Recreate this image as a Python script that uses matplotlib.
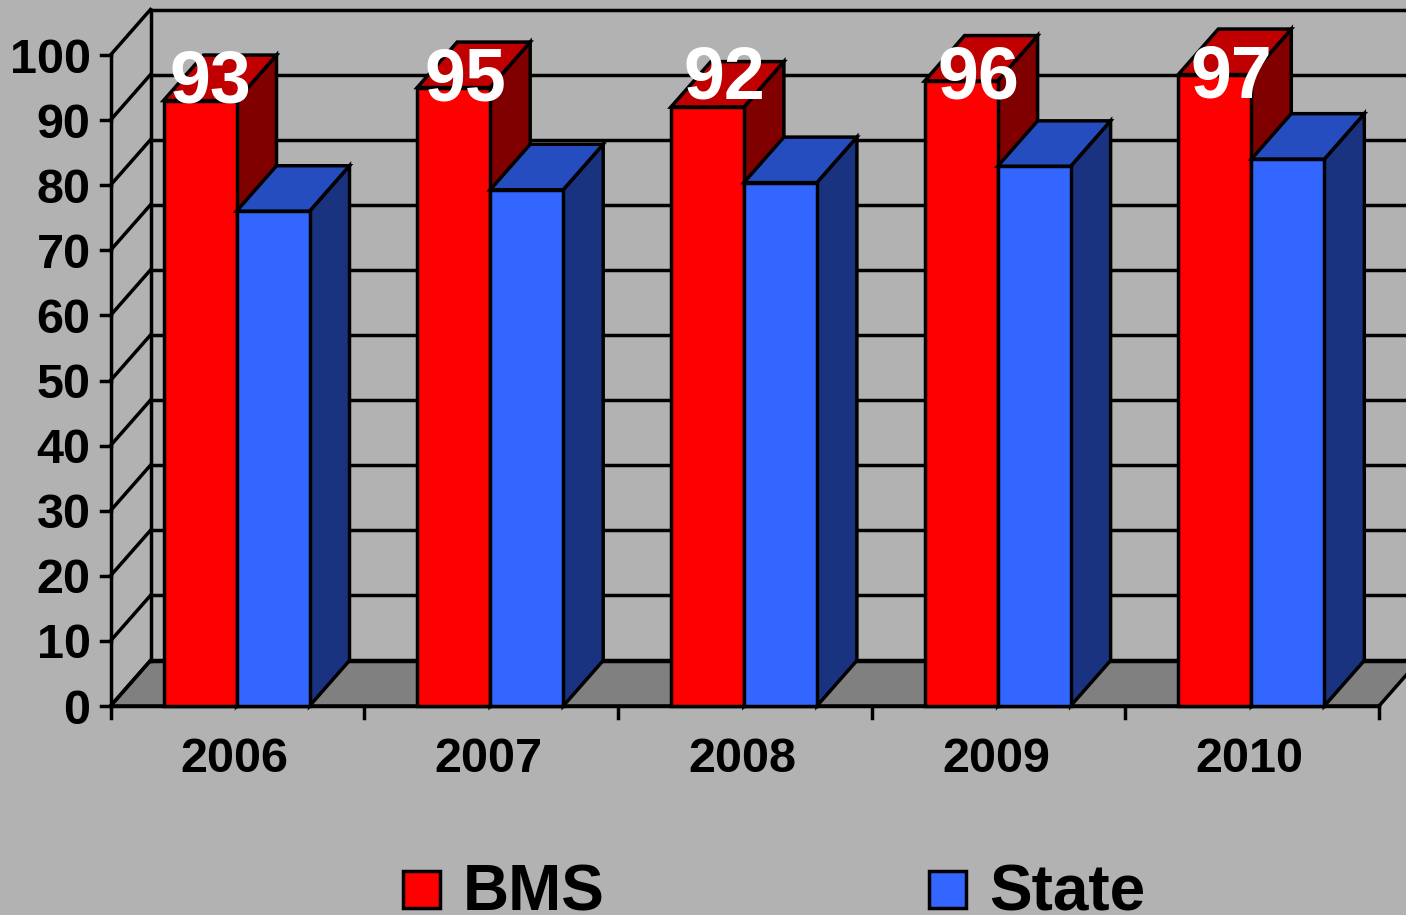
import numpy as np
import matplotlib
matplotlib.use('Agg')
import matplotlib.pyplot as plt
from matplotlib.patches import Polygon, Rectangle

years = ['2006', '2007', '2008', '2009', '2010']
bms = [93, 95, 92, 96, 97]
state = [76, 79.3, 80.4, 82.9, 84]
y_ticks = [0, 10, 20, 30, 40, 50, 60, 70, 80, 90, 100]

W, H = 1406, 915
x0_px, y0_px = 110.5, 706
slot_px = 253.7
unit_px = 6.51

bg = '#B2B2B2'
plt.rcParams['font.family'] = ['Liberation Sans', 'DejaVu Sans']

fig = plt.figure(figsize=(W / 100, H / 100), dpi=100, facecolor=bg)
ax = fig.add_axes([0, 0, 1, 1])
ax.set_xlim(-x0_px / slot_px, (W - x0_px) / slot_px)
ax.set_ylim((y0_px - H) / unit_px, y0_px / unit_px)
ax.axis('off')

# depth of the fake 3d box
dx = 40 / slot_px
dy = 45.5 / unit_px
lw = 2.5
n = len(years)

# floor
ax.add_patch(Polygon([(0, 0), (n, 0), (n + dx, dy), (dx, dy)], fc='#808080', ec='black', lw=lw, zorder=1))

# back wall grid and left wall
for t in y_ticks:
    ax.plot([dx, n + dx + 1], [t + dy, t + dy], color='black', lw=lw, zorder=1.5)
    ax.plot([0, dx], [t, t + dy], color='black', lw=lw, zorder=1.5)
ax.plot([dx, dx], [dy, 100 + dy], color='black', lw=lw, zorder=1.5)
ax.plot([0, 0], [0, 100], color='black', lw=lw, zorder=2)
ax.plot([0, n], [0, 0], color='black', lw=lw, zorder=2)

# ticks
for t in y_ticks:
    ax.plot([-10 / slot_px, 0], [t, t], color='black', lw=lw, zorder=2)
    ax.text(-20 / slot_px, t, str(t), ha='right', va='center_baseline', fontsize=35, fontweight='bold')
for i in range(n + 1):
    ax.plot([i, i], [0, -12 / unit_px], color='black', lw=lw, zorder=2)

x = np.arange(n)
offset = 53 / slot_px
bar_w = 73 / slot_px

# labels sit at nearly the same height, not on the bars
label_x = [0.395, 0.4, 0.42, 0.42, 0.42]
label_y = [96.9, 97.1, 97.4, 97.4, 97.6]


def bar3d(left, value, front, top, side, z):
    ax.bar(left, value, bar_w, align='edge', color=front, edgecolor='black', linewidth=lw, zorder=z + 0.2)
    r = left + bar_w
    ax.add_patch(Polygon([(r, 0), (r + dx, dy), (r + dx, value + dy), (r, value)],
                         fc=side, ec='black', lw=lw, zorder=z))
    ax.add_patch(Polygon([(left, value), (r, value), (r + dx, value + dy), (left + dx, value + dy)],
                         fc=top, ec='black', lw=lw, zorder=z + 0.1))


for i in x:
    bar3d(i + offset, bms[i], '#FF0000', '#C00000', '#800000', 3)
    bar3d(i + offset + bar_w, state[i], '#3366FF', '#264DBF', '#1A3380', 4)
    ax.text(i + label_x[i], label_y[i], str(bms[i]), color='white', ha='center', va='center_baseline',
            fontsize=53, fontweight='bold', zorder=6)
    ax.text(i + 0.49, -7.4, years[i], ha='center', va='center_baseline', fontsize=35, fontweight='bold')

# legend
for left, color, name in [(403, '#FF0000', 'BMS'), (929, '#3366FF', 'State')]:
    ax.add_patch(Rectangle(((left - x0_px) / slot_px, (y0_px - 908) / unit_px), 37 / slot_px, 37 / unit_px,
                           fc=color, ec='black', lw=lw, zorder=5))
    ax.text((left + 60 - x0_px) / slot_px, (y0_px - 887) / unit_px, name, ha='left', va='center_baseline',
            fontsize=46, fontweight='bold')

fig.savefig('out.png', dpi=100, facecolor=bg)
